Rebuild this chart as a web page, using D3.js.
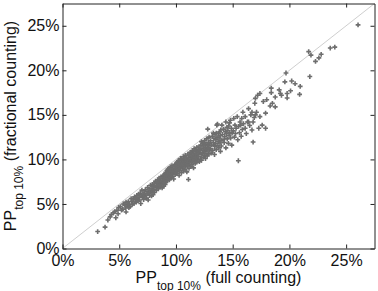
<!DOCTYPE html>
<html>
<head>
<meta charset="utf-8">
<script src="https://cdn.jsdelivr.net/npm/d3@7"></script>
<style>
  body { margin: 0; background: #fff; }
  svg { display: block; font-family: "Liberation Sans", Arial, sans-serif; }
</style>
</head>
<body>
<svg id="chart" width="378" height="291"></svg>
<script>
// PP top 10% (full counting) vs PP top 10% (fractional counting), values in percent
const fullCounting = [
  3.1,3.75,4.0,4.2,4.3,4.5,4.7,4.8,4.9,4.6,4.95,
  5.1,5.2,5.3,5.35,5.5,5.55,5.6,5.7,5.75,5.8,5.85,5.9,5.95,5.6,
  6.05,6.1,6.15,6.25,6.3,6.35,6.45,6.5,6.55,6.6,6.65,6.7,6.75,6.8,6.85,6.9,6.95,6.4,
  7.0,7.05,7.1,7.15,7.2,7.25,7.3,7.35,7.4,7.45,7.5,7.55,7.6,7.62,7.68,7.72,7.75,7.8,7.85,7.88,7.92,7.95,7.98,7.5,
  8.0,8.02,8.08,8.1,8.15,8.2,8.25,8.28,8.32,8.38,8.4,8.45,8.5,8.52,8.58,8.6,8.65,8.68,8.7,8.75,8.78,8.82,8.85,8.88,8.9,8.93,8.96,8.98,8.55,8.35,
  9.0,9.02,9.05,9.08,9.1,9.12,9.15,9.18,9.2,9.22,9.25,9.28,9.3,9.33,9.35,9.38,9.4,9.42,9.45,9.48,9.5,9.52,9.55,9.58,9.6,9.62,9.65,9.68,9.7,9.72,9.75,9.78,9.8,9.83,9.86,9.9,9.93,9.97,
  10.0,10.02,10.05,10.08,10.1,10.12,10.15,10.18,10.2,10.22,10.25,10.28,10.3,10.33,10.35,10.38,10.4,10.42,10.45,10.48,10.5,10.52,10.55,10.58,10.6,10.62,10.65,10.68,10.7,10.72,10.75,10.78,10.8,10.82,10.85,10.88,10.9,10.93,10.96,10.98,
  11.0,11.02,11.05,11.08,11.1,11.12,11.15,11.18,11.2,11.22,11.25,11.28,11.3,11.33,11.35,11.38,11.4,11.42,11.45,11.48,11.5,11.52,11.55,11.58,11.6,11.62,11.65,11.68,11.7,11.72,11.75,11.78,11.8,11.82,11.85,11.88,11.9,11.93,11.96,11.98,
  12.0,12.03,12.06,12.1,12.12,12.15,12.2,12.22,12.25,12.3,12.33,12.36,12.4,12.42,12.45,12.5,12.52,12.55,12.58,12.6,12.62,12.65,12.7,12.72,12.75,12.78,12.8,12.82,12.85,12.88,12.9,12.92,12.95,12.97,12.5,12.25,
  13.02,13.05,13.1,13.15,13.2,13.25,13.3,13.35,13.4,13.42,13.45,13.5,13.52,13.55,13.6,13.62,13.66,13.7,13.72,13.75,13.78,13.8,13.85,13.88,13.9,13.92,13.95,13.98,13.3,13.55,
  14.0,14.05,14.1,14.15,14.2,14.25,14.3,14.35,14.4,14.45,14.5,14.52,14.58,14.62,14.68,14.72,14.75,14.8,14.82,14.88,14.92,14.95,14.4,14.65,
  15.05,15.1,15.15,15.2,15.25,15.3,15.4,15.45,15.5,15.52,15.6,15.65,15.7,15.75,15.8,15.85,15.9,15.95,
  16.1,16.1,16.2,16.3,16.4,16.4,16.5,16.6,16.7,16.7,16.8,16.8,16.9,16.95,
  17.0,17.0,17.1,17.2,17.3,17.4,17.4,17.6,17.7,17.9,17.9,
  18.0,18.4,18.4,18.5,18.75,18.75,18.3,
  19.1,19.2,19.3,19.6,19.7,19.8,19.8,
  20.1,20.2,20.5,20.9,20.95,
  21.7,21.8,21.9,22.3,22.6,22.8,23.6,24.0,26.05
];
const fractionalCounting = [
  1.9,2.4,3.2,3.55,3.8,4.0,3.45,4.3,3.9,4.15,4.6,
  4.7,4.3,4.4,5.0,4.9,4.55,4.1,4.75,5.1,5.25,4.6,4.95,4.7,5.2,
  5.6,5.3,4.95,5.45,5.05,5.8,5.5,5.2,5.95,5.6,5.35,6.1,5.75,5.45,6.2,5.05,5.9,5.7,
  6.55,5.8,6.1,5.5,6.35,5.9,6.6,6.0,5.65,6.4,6.85,5.45,6.2,6.7,5.95,6.5,7.1,6.3,5.9,6.75,7.2,6.45,6.05,6.15,
  7.0,6.6,7.35,6.3,6.85,7.55,7.1,6.55,7.3,6.95,7.7,6.7,7.25,7.9,7.45,6.9,7.65,8.05,7.15,7.5,6.8,7.85,7.35,8.2,7.6,7.0,7.95,7.4,7.05,7.45,
  8.3,7.75,7.2,8.0,8.55,7.5,8.15,7.85,8.75,8.4,7.6,8.9,8.1,7.9,8.55,8.25,9.0,7.7,8.4,8.7,8.0,9.15,8.5,7.95,8.85,8.3,9.3,8.6,8.1,9.0,8.45,8.8,7.8,9.2,8.6,9.4,8.3,8.95,
  9.5,8.8,9.15,8.4,9.7,9.0,8.6,9.35,9.85,8.9,9.55,8.2,9.2,9.9,8.75,9.45,10.1,9.05,9.7,8.5,9.3,10.0,9.6,8.95,9.85,9.4,10.3,8.7,9.15,9.75,10.05,9.5,8.9,10.45,9.65,9.25,10.2,9.9,8.6,9.55,
  10.0,9.3,10.6,9.7,7.75,10.25,9.0,9.85,10.5,9.45,10.8,9.95,9.2,10.35,9.65,10.7,10.1,9.4,11.0,10.3,9.8,10.6,9.05,10.15,11.2,9.9,10.45,10.85,9.55,10.25,11.1,10.0,10.6,9.7,11.35,10.35,10.9,9.95,10.55,11.0,
  10.3,11.4,9.75,10.8,11.1,10.05,11.6,10.55,9.9,11.25,10.7,11.85,10.25,11.0,11.5,10.45,12.1,10.9,11.3,10.1,11.7,10.65,12.3,11.15,10.4,11.55,13.4,10.95,11.9,11.35,10.6,12.5,11.1,11.75,11.8,12.0,
  11.2,12.1,10.7,11.6,12.6,11.0,11.9,12.35,10.55,11.45,12.8,11.75,12.2,11.1,13.85,12.5,13.97,11.55,12.0,12.9,11.3,12.4,13.1,11.85,12.65,10.9,13.3,12.15,12.95,12.95,
  11.5,13.85,12.8,12.2,13.4,11.9,12.55,13.1,11.3,12.9,13.6,12.3,13.25,11.8,12.7,14.1,13.0,14.4,12.4,13.5,11.6,12.95,14.2,13.75,
  13.2,14.6,12.5,13.85,12.9,13.5,14.8,12.2,9.85,13.7,13.0,14.2,13.85,12.6,14.6,13.35,15.3,14.0,
  14.8,13.5,12.9,14.2,15.7,14.2,13.8,15.0,15.3,13.3,14.2,11.95,14.7,16.3,
  15.0,16.85,15.3,17.2,13.5,14.8,17.4,13.85,16.5,15.2,13.5,
  16.7,18.0,17.5,16.3,17.0,15.9,16.0,
  17.8,17.4,17.2,18.7,19.7,17.4,16.9,
  17.7,18.8,18.5,17.3,18.2,
  22.1,19.3,21.7,21.0,21.4,21.8,22.5,22.6,25.1
];
const tickValues = [0, 5, 10, 15, 20, 25];
const axisMax = 27.5;

const svg = d3.select('#chart');
const x = d3.scaleLinear().domain([0, axisMax]).range([62.5, 374.5]);
const y = d3.scaleLinear().domain([0, axisMax]).range([248.5, 3.5]);
const fmt = d => d + '%';

// diagonal y = x
svg.append('line')
  .attr('x1', x(0)).attr('y1', y(0))
  .attr('x2', x(axisMax)).attr('y2', y(axisMax))
  .attr('stroke', '#cfcfcf').attr('stroke-width', 1);

// points
const pts = fullCounting.map((v, i) => [v, fractionalCounting[i]]);
svg.append('g').selectAll('path').data(pts).join('path')
  .attr('d', d => {
    const cx = x(d[0]), cy = y(d[1]), r = 2.4;
    return `M${cx - r},${cy}H${cx + r}M${cx},${cy - r}V${cy + r}`;
  })
  .attr('stroke', '#6e6e6e').attr('stroke-width', 1.6).attr('fill', 'none');

// axes (ticks pointing inwards, box on all four sides)
const styleAxis = g => {
  g.selectAll('.domain').attr('stroke', '#222');
  g.selectAll('.tick line').attr('stroke', '#222');
  g.selectAll('.tick text').attr('fill', '#111').style('font-size', '16px')
    .style('font-family', '"Liberation Sans", Arial, sans-serif');
};

svg.append('g').attr('transform', `translate(0,${y(0)})`)
  .call(d3.axisBottom(x).tickValues(tickValues).tickFormat(fmt).tickSizeInner(-4).tickSizeOuter(0).tickPadding(6))
  .call(styleAxis);
svg.append('g').attr('transform', `translate(${x(0)},0)`)
  .call(d3.axisLeft(y).tickValues(tickValues).tickFormat(fmt).tickSizeInner(-4).tickSizeOuter(0).tickPadding(3))
  .call(styleAxis);
svg.append('g').attr('transform', `translate(0,${y(axisMax)})`)
  .call(d3.axisTop(x).tickValues(tickValues).tickFormat('').tickSizeInner(-4).tickSizeOuter(0))
  .call(styleAxis);
svg.append('g').attr('transform', `translate(${x(axisMax)},0)`)
  .call(d3.axisRight(y).tickValues(tickValues).tickFormat('').tickSizeInner(-4).tickSizeOuter(0))
  .call(styleAxis);

// axis titles
function title(g, rest) {
  g.attr('text-anchor', 'middle').attr('fill', '#111').style('font-size', '16px');
  g.append('tspan').text('PP');
  g.append('tspan').attr('dy', 7).style('font-size', '12px').text('top 10%');
  g.append('tspan').attr('dy', -7).text(' ' + rest);
}
const cx = (x(0) + x(axisMax)) / 2;
const cy = (y(0) + y(axisMax)) / 2;
svg.append('text').attr('x', cx).attr('y', 283).call(title, '(full counting)');
svg.append('text').attr('transform', `translate(15.5,${cy}) rotate(-90)`).call(title, '(fractional counting)');
</script>
</body>
</html>
